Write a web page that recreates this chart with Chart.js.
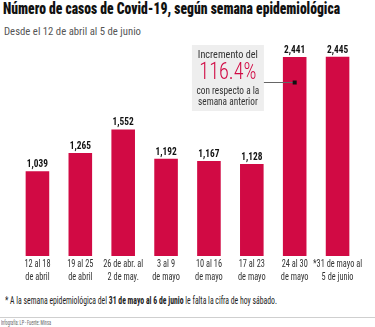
<!DOCTYPE html>
<html>
<head>
<meta charset="utf-8">
<script src="https://cdn.jsdelivr.net/npm/chart.js@4.4.1/dist/chart.umd.min.js"></script>
<style>
  html, body { margin: 0; padding: 0; background: #fff; width: 375px; height: 327px; overflow: hidden; }
  body { position: relative; font-family: 'Roboto Condensed', 'Liberation Sans Narrow', 'DejaVu Sans Condensed', 'Roboto', sans-serif; }
  .fit { position: absolute; white-space: nowrap; transform-origin: 0 0; }
  #title { left: 3px; top: -1px; font-size: 16px; font-weight: 900; color: #111; }
  #subtitle { left: 4px; top: 25px; font-size: 11px; color: #555; }
  #wrap { position: absolute; left: 0; top: 0; width: 375px; height: 292px; }
  #note { left: 5px; top: 295px; font-size: 10px; color: #222; }
  #rule { position: absolute; left: 0; top: 317px; width: 375px; height: 1px; background: #cfcfcf; }
  #credit { left: 1px; top: 319px; font-size: 7px; color: #666; }
</style>
</head>
<body>
<div id="title" class="fit" data-w="337">Número de casos de Covid-19, según semana epidemiológica</div>
<div id="subtitle" class="fit" data-w="137">Desde el 12 de abril al 5 de junio</div>
<div id="wrap"><canvas id="c"></canvas></div>
<div id="note" class="fit" data-w="272">* A la semana epidemiológica del <b>31 de mayo al 6 de junio</b> le falta la cifra de hoy sábado.</div>
<div id="rule"></div>
<div id="credit" class="fit" data-w="50">Infografía: LP - Fuente: Minsa</div>
<script>
const categories = [
  ["12 al 18", "de abril"],
  ["19 al 25", "de abril"],
  ["26 de abr. al", "2 de may."],
  ["3 al 9", "de mayo"],
  ["10 al 16", "de mayo"],
  ["17 al 23", "de mayo"],
  ["24 al 30", "de mayo"],
  ["*31 de mayo al", "5 de junio"]
];
const cases = [1039, 1265, 1552, 1192, 1167, 1128, 2441, 2445];
const calloutLines = ["Incremento del", "116.4%", "con respecto a la", "semana anterior"];
const calloutIndex = 6;

const FONT = "'Roboto Condensed', 'Liberation Sans Narrow', 'DejaVu Sans Condensed', 'Roboto', sans-serif";
const RED = '#d10a44';

document.querySelectorAll('.fit').forEach(el => {
  const target = parseFloat(el.dataset.w);
  const w = el.getBoundingClientRect().width;
  if (w > 0) el.style.transform = 'scaleX(' + (target / w) + ')';
});

function squeezeText(ctx, text, x, y, sx) {
  ctx.save();
  ctx.translate(x, y);
  ctx.scale(sx, 1);
  ctx.fillText(text, 0, 0);
  ctx.restore();
}

const labelsPlugin = {
  id: 'labelsPlugin',
  afterDatasetsDraw(chart) {
    const ctx = chart.ctx;
    const meta = chart.getDatasetMeta(0);
    const area = chart.chartArea;
    ctx.save();
    ctx.textAlign = 'center';
    ctx.font = "bold 11px " + FONT;
    ctx.fillStyle = '#111';
    ctx.textBaseline = 'alphabetic';
    meta.data.forEach((bar, i) => {
      squeezeText(ctx, cases[i].toLocaleString('en-US'), bar.x, bar.y - 4, 0.85);
    });
    ctx.font = "10px " + FONT;
    ctx.fillStyle = '#333';
    ctx.textBaseline = 'middle';
    meta.data.forEach((bar, i) => {
      categories[i].forEach((line, j) => {
        squeezeText(ctx, line, bar.x, area.bottom + 8 + j * 13, 0.83);
      });
    });
    ctx.restore();
  }
};

const callout = {
  id: 'callout',
  afterDatasetsDraw(chart) {
    const ctx = chart.ctx;
    const bar = chart.getDatasetMeta(0).data[calloutIndex];
    const area = chart.chartArea;
    const left = bar.x - bar.width / 2;
    const boxR = left - 19;
    const boxL = boxR - 72;
    const boxT = area.top + 5;
    const boxB = boxT + 66;
    ctx.save();
    ctx.fillStyle = '#eeeeee';
    ctx.fillRect(boxL, boxT, boxR - boxL, boxB - boxT);
    const cx = (boxL + boxR) / 2;
    ctx.textAlign = 'center';
    ctx.textBaseline = 'middle';
    ctx.fillStyle = '#333';
    ctx.font = "11px " + FONT;
    squeezeText(ctx, calloutLines[0], cx, boxT + 10, 0.93);
    ctx.fillStyle = RED;
    ctx.font = "300 23px " + FONT;
    squeezeText(ctx, calloutLines[1], cx, boxT + 28, 0.88);
    ctx.fillStyle = '#333';
    ctx.font = "10px " + FONT;
    squeezeText(ctx, calloutLines[2], cx, boxT + 46, 0.93);
    squeezeText(ctx, calloutLines[3], cx, boxT + 57, 0.93);
    const ly = boxT + 37;
    ctx.strokeStyle = '#666';
    ctx.lineWidth = 1;
    ctx.beginPath();
    ctx.moveTo(boxR, ly + 0.5);
    ctx.lineTo(bar.x, ly + 0.5);
    ctx.stroke();
    ctx.fillStyle = '#111';
    ctx.fillRect(bar.x - 2, ly - 1.5, 4, 4);
    ctx.restore();
  }
};

new Chart(document.getElementById('c'), {
  type: 'bar',
  data: {
    labels: categories,
    datasets: [{
      data: cases,
      backgroundColor: RED,
      borderWidth: 0,
      barPercentage: 0.55,
      categoryPercentage: 1.0
    }]
  },
  options: {
    responsive: true,
    maintainAspectRatio: false,
    animation: false,
    layout: { padding: { left: 16, right: 16, top: 40, bottom: 36 } },
    plugins: { legend: { display: false }, tooltip: { enabled: false } },
    scales: {
      x: {
        display: false,
        grid: { display: false }
      },
      y: {
        display: false,
        min: 0,
        max: 2650
      }
    }
  },
  plugins: [labelsPlugin, callout]
});
</script>
</body>
</html>
